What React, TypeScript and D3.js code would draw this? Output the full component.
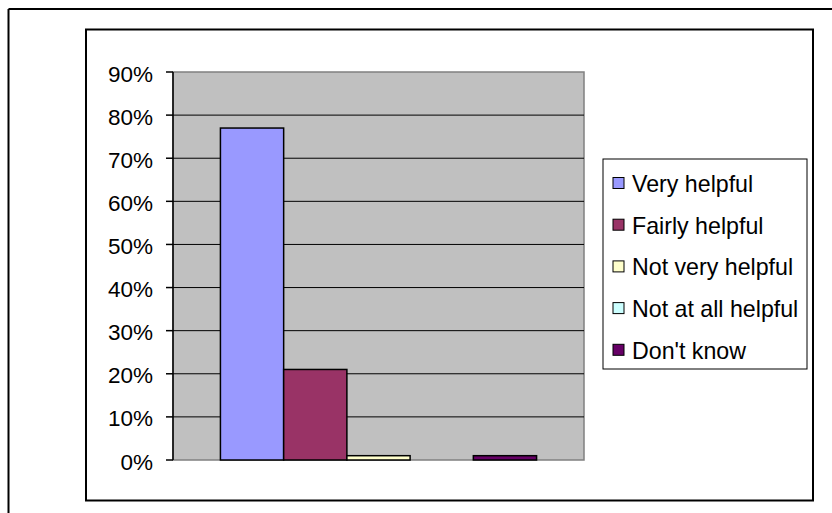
import * as d3 from 'd3';

const categories = ['Very helpful', 'Fairly helpful', 'Not very helpful', 'Not at all helpful', "Don't know"];
const values = [0.77, 0.21, 0.01, 0, 0.01];
const colors = ['#9999FF', '#993366', '#FFFFCC', '#CCFFFF', '#660066'];
const yTicks = [0, 0.1, 0.2, 0.3, 0.4, 0.5, 0.6, 0.7, 0.8, 0.9];

const WIDTH = 832;
const HEIGHT = 513;
const PLOT = { left: 173, right: 584, top: 72, bottom: 460 };
const FONT = 'Arial, "Liberation Sans", sans-serif';

export default function App() {
  const y = d3.scaleLinear().domain([0, 0.9]).range([PLOT.bottom, PLOT.top]);
  // one category, five series; gap width 150% of a bar
  const barW = (PLOT.right - PLOT.left) / (categories.length + 1.5);
  const x = d3
    .scaleBand<string>()
    .domain(categories)
    .range([PLOT.left + barW * 0.75, PLOT.right - barW * 0.75]);
  const fmt = d3.format('.0%');

  const legend = { x: 603, y: 159, w: 204, h: 210, step: 41.7, first: 183 };

  return (
    <svg
      width={WIDTH}
      height={HEIGHT}
      style={{ position: 'absolute', left: 0, top: 0, background: '#fff' }}
      fontFamily={FONT}
    >
      {/* outer frame, cut off at right and bottom */}
      <line x1={8.5} y1={9} x2={WIDTH} y2={9} stroke="#000" strokeWidth={2} />
      <line x1={8.5} y1={9} x2={8.5} y2={HEIGHT} stroke="#000" strokeWidth={2} />
      {/* chart frame */}
      <rect x={86} y={29.5} width={727} height={471} fill="#fff" stroke="#000" strokeWidth={2} />

      {/* plot area */}
      <rect
        x={PLOT.left}
        y={PLOT.top}
        width={PLOT.right - PLOT.left}
        height={PLOT.bottom - PLOT.top}
        fill="#C0C0C0"
        stroke="#808080"
        strokeWidth={1.5}
      />
      {yTicks.slice(1, -1).map((t) => (
        <line key={t} x1={PLOT.left} x2={PLOT.right} y1={y(t)} y2={y(t)} stroke="#000" strokeWidth={1} />
      ))}

      {/* bars */}
      {categories.map((c, i) =>
        values[i] > 0 ? (
          <rect
            key={c}
            x={x(c)}
            y={y(values[i])}
            width={x.bandwidth()}
            height={PLOT.bottom - y(values[i])}
            fill={colors[i]}
            stroke="#000"
            strokeWidth={1.5}
          />
        ) : null
      )}

      {/* y axis */}
      <line x1={PLOT.left} x2={PLOT.left} y1={PLOT.top} y2={PLOT.bottom} stroke="#000" strokeWidth={1.5} />
      {yTicks.map((t) => (
        <g key={t} transform={`translate(0,${y(t)})`}>
          <line x1={PLOT.left - 7} x2={PLOT.left} stroke="#000" strokeWidth={1.5} />
          <text x={PLOT.left - 20} y={1.5} dy="0.36em" textAnchor="end" fontSize={22.5} fill="#000">
            {fmt(t)}
          </text>
        </g>
      ))}

      {/* legend */}
      <rect x={legend.x} y={legend.y} width={legend.w} height={legend.h} fill="#fff" stroke="#000" strokeWidth={1} />
      {categories.map((c, i) => {
        const cy = legend.first + i * legend.step;
        return (
          <g key={c}>
            <rect x={613} y={cy - 5.5} width={11} height={11} fill={colors[i]} stroke="#000" strokeWidth={1} />
            <text x={632} y={cy + 0.5} dy="0.36em" fontSize={23.2} fill="#000">
              {c}
            </text>
          </g>
        );
      })}
    </svg>
  );
}
